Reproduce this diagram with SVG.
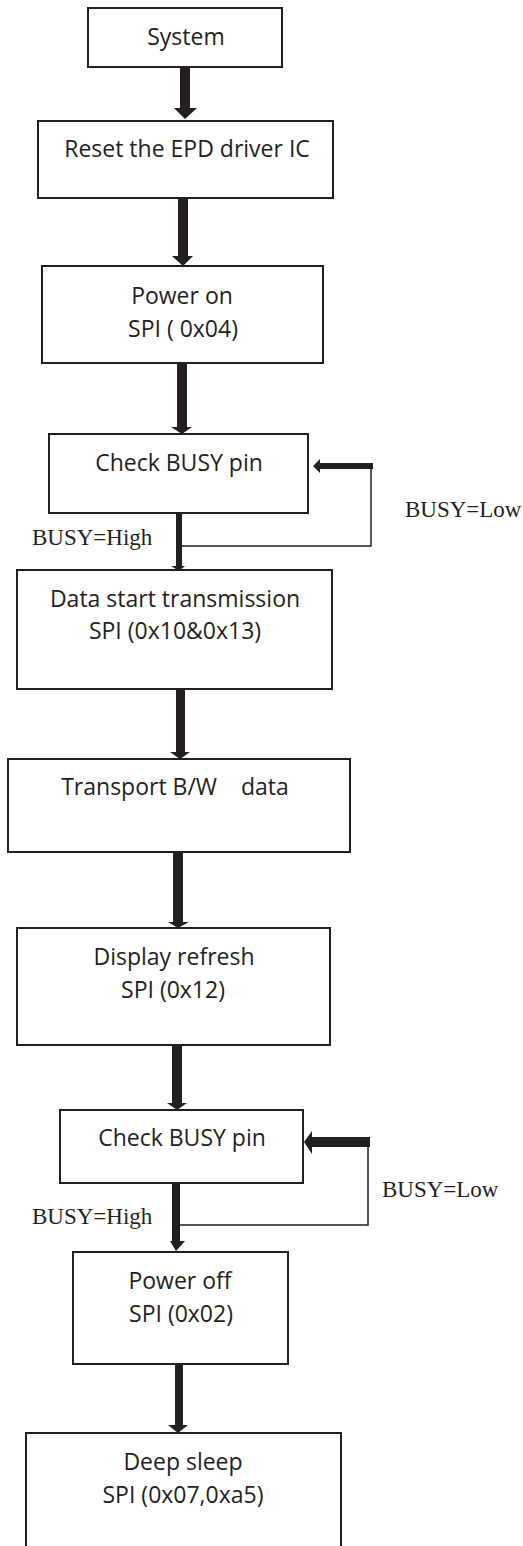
<svg xmlns="http://www.w3.org/2000/svg" width="523" height="1546" viewBox="0 0 523 1546">
<style>
.box{fill:#fff;stroke:#231f20;stroke-width:2}
.t{font-family:"Open Sans","Noto Sans",sans-serif;font-size:23px;fill:#231f20;text-anchor:middle}
.lbl{font-family:"Liberation Serif","Times New Roman",serif;font-size:23px;fill:#231f20}
.arr{fill:#231f20}
.thin{fill:none;stroke:#231f20;stroke-width:1.5}
</style>
<rect width="523" height="1546" fill="#fff"/>
<g id="connectors">
<polygon class="arr" points="180,68 190,68 190,108 197,108 185,119 174,108 180,108"/>
<polygon class="arr" points="178,198 188,198 188,256 193,256 183,266 172,256 178,256"/>
<polygon class="arr" points="177,363 187,363 187,427 192,427 182,434 171,427 177,427"/>
<polygon class="arr" points="176,513 182,513 182,566 185,566 179,571 171,566 176,566"/>
<polygon class="arr" points="176,689 185,689 185,752 190,752 180,759 170,752 176,752"/>
<polygon class="arr" points="173,852 183,852 183,922 189,922 178,928 168,922 173,922"/>
<polygon class="arr" points="172,1045 182,1045 182,1103 187,1103 177,1110 167,1103 172,1103"/>
<polygon class="arr" points="172,1183 180,1183 180,1241 185,1241 176,1251 170,1241 172,1241"/>
<polygon class="arr" points="175,1364 183,1364 183,1425 188,1425 178,1433 168,1425 175,1425"/>
<polygon class="arr" points="373,463 320,463 320,459 313,466 320,473 320,469 373,469"/>
<polyline class="thin" points="371,466 371,546 182,546"/>
<polygon class="arr" points="370,1137 312,1137 312,1131 304,1142 312,1154 312,1147 370,1147"/>
<polyline class="thin" points="368,1142 368,1225 180,1225"/>
</g>
<g id="n1"><rect class="box" x="88" y="8" width="194" height="59"/><text class="t" x="186" y="45">System</text></g>
<g id="n2"><rect class="box" x="38" y="121" width="295" height="77"/><text class="t" x="187" y="157">Reset the EPD driver IC</text></g>
<g id="n3"><rect class="box" x="42" y="266" width="281" height="97"/><text class="t" x="182" y="304">Power on</text><text class="t" x="183" y="337">SPI ( 0x04)</text></g>
<g id="n4"><rect class="box" x="49" y="434" width="259" height="79"/><text class="t" x="179" y="471">Check BUSY pin</text></g>
<g id="n5"><rect class="box" x="17" y="570" width="315" height="119"/><text class="t" x="175" y="607">Data start transmission</text><text class="t" x="175" y="639">SPI (0x10&amp;0x13)</text></g>
<g id="n6"><rect class="box" x="8" y="759" width="342" height="93"/><text class="t" x="175" y="795" xml:space="preserve" style="white-space:pre">Transport B/W    data</text></g>
<g id="n7"><rect class="box" x="17" y="928" width="313" height="117"/><text class="t" x="174" y="965">Display refresh</text><text class="t" x="173" y="998">SPI (0x12)</text></g>
<g id="n8"><rect class="box" x="60" y="1110" width="243" height="73"/><text class="t" x="182" y="1146">Check BUSY pin</text></g>
<g id="n9"><rect class="box" x="73" y="1252" width="215" height="112"/><text class="t" x="180" y="1289">Power off</text><text class="t" x="181" y="1322">SPI (0x02)</text></g>
<g id="n10"><rect class="box" x="26" y="1433" width="315" height="130"/><text class="t" x="183" y="1470">Deep sleep</text><text class="t" x="183" y="1503">SPI (0x07,0xa5)</text></g>
<g id="labels">
<text class="lbl" x="32" y="545">BUSY=High</text>
<text class="lbl" x="405" y="517">BUSY=Low</text>
<text class="lbl" x="32" y="1224">BUSY=High</text>
<text class="lbl" x="382" y="1197">BUSY=Low</text>
</g>
</svg>
